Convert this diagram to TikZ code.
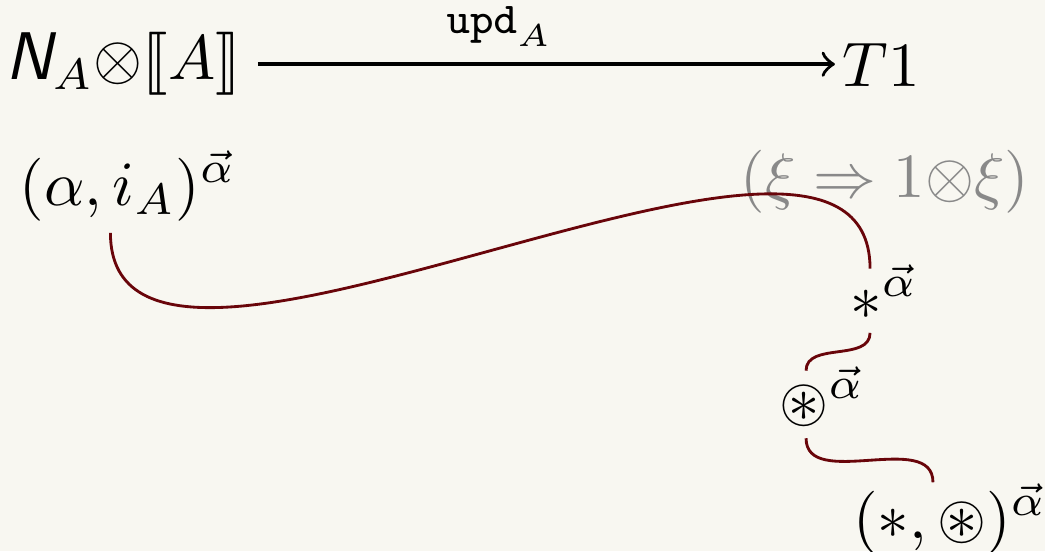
\documentclass[tikz,border=0pt]{standalone}
\usepackage{amsmath}
\usepackage{amssymb}
\usepackage{stmaryrd}
\usepackage{tikz}
\usetikzlibrary{calc}
\definecolor{mybg}{RGB}{248,247,241}
\definecolor{mywire}{RGB}{105,5,10}
\definecolor{mygrey}{RGB}{137,137,137}
\tikzset{
  term/.style={inner sep=0pt, anchor=base},
  wire/.style={color=mywire, line width=0.45pt},
  map/.style={->, line width=0.55pt}
}
\newcommand{\natsym}{\text{\fontsize{10.7}{12}\selectfont\sffamily\slshape N}}

\begin{document}
\begin{tikzpicture}
  % Page
  \fill[mybg] (0,0) rectangle (5.830,-3.074);
  \useasboundingbox (0,0) rectangle (5.830,-3.074);

  % Top row: the update map
  \node[term] (nat) at (0.686,-0.446) {$\natsym_A{\otimes}\llbracket A\rrbracket$};
  \node[term] (tone) at (4.915,-0.480) {$T1$};
  \draw[map, shorten <=2.5pt, shorten >=1pt] (nat.east) -- (nat.east -| tone.west)
    node[pos=0.43, above, inner sep=2.5pt] {$\scriptstyle\mathtt{upd}_A$};

  % Terms
  \node[term] (pair) at (0.714,-1.144) {$(\alpha, i_A)^{\vec{\alpha}}$};
  \node[term, color=mygrey] (unit) at (4.937,-1.099) {$(\xi \Rightarrow 1{\otimes}\xi)$};
  \node[term] (star) at (4.932,-1.780) {$\ast^{\vec{\alpha}}$};
  \node[term] (ostar) at (4.586,-2.349) {$\circledast^{\vec{\alpha}}$};
  \node[term] (pstar) at (5.300,-3.002) {$(\ast, \circledast)^{\vec{\alpha}}$};

  % Wire ends
  \coordinate (pair-out) at ($(pair.south)+(-0.098,-0.06)$);
  \coordinate (star-in) at ($(star.north)+(-0.078,-0.03)$);
  \coordinate (star-out) at ($(star.south)+(-0.078,-0.07)$);
  \coordinate (ostar-in) at ($(ostar.north)+(-0.089,-0.03)$);
  \coordinate (ostar-out) at ($(ostar.south)+(-0.089,-0.06)$);
  \coordinate (pstar-in) at ($(pstar.north)+(-0.095,0)$);

  % Wires
  \draw[wire] (pair-out) to[out=-90, in=90, looseness=0.82] (star-in);
  \draw[wire] (star-out) to[out=-90, in=90] (ostar-in);
  \draw[wire] (ostar-out) to[out=-90, in=90] (pstar-in);
\end{tikzpicture}
\end{document}
